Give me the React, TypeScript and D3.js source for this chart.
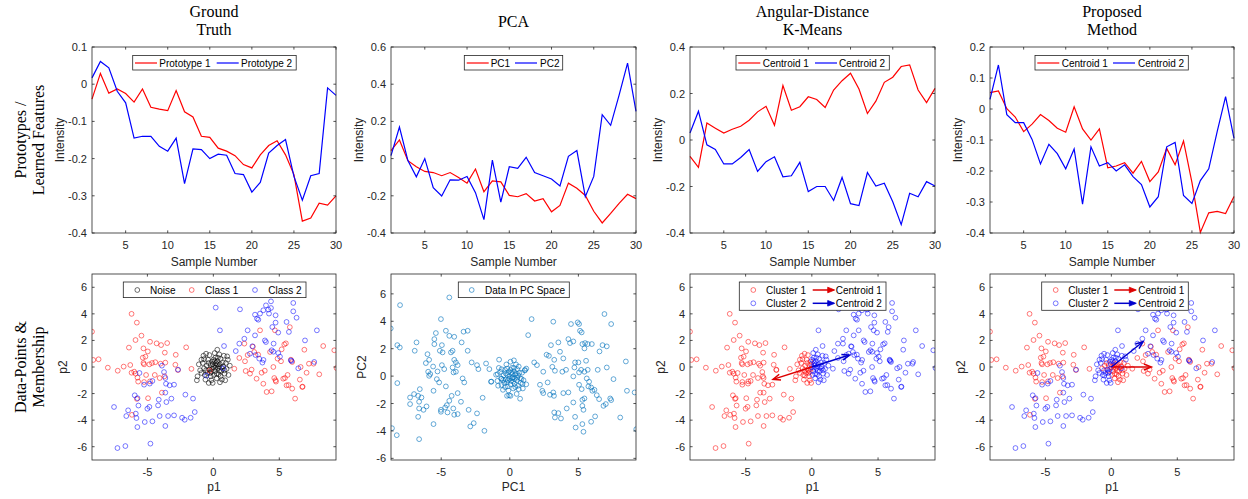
import React from 'react';
import * as d3 from 'd3';

// ---------------- DATA ----------------
const sampleNumbers = [1, 2, 3, 4, 5, 6, 7, 8, 9, 10, 11, 12, 13, 14, 15, 16, 17, 18, 19, 20, 21, 22, 23, 24, 25, 26, 27, 28, 29, 30];

const gtPrototype1 = [-0.04, 0.029, -0.024, -0.013, -0.025, -0.048, -0.013, -0.062, -0.067, -0.071, -0.017, -0.074, -0.088, -0.14, -0.143, -0.172, -0.18, -0.192, -0.216, -0.225, -0.19, -0.165, -0.152, -0.19, -0.243, -0.368, -0.36, -0.32, -0.325, -0.3];
const gtPrototype2 = [0.017, 0.061, 0.044, -0.019, -0.05, -0.145, -0.14, -0.14, -0.167, -0.18, -0.145, -0.267, -0.174, -0.176, -0.2, -0.188, -0.191, -0.24, -0.243, -0.29, -0.264, -0.185, -0.165, -0.149, -0.248, -0.312, -0.246, -0.24, -0.01, -0.03];

const pcaPC1 = [0.043, 0.1, -0.011, -0.044, -0.069, -0.075, -0.092, -0.075, -0.101, -0.132, -0.056, -0.178, -0.12, -0.125, -0.198, -0.205, -0.188, -0.228, -0.215, -0.286, -0.252, -0.132, -0.16, -0.198, -0.283, -0.346, -0.295, -0.241, -0.192, -0.215];
const pcaPC2 = [0.016, 0.17, -0.011, -0.098, 0.0, -0.156, -0.201, -0.114, -0.116, -0.096, -0.183, -0.328, -0.008, -0.234, -0.044, -0.053, 0.007, -0.075, -0.092, -0.11, -0.147, 0.012, 0.043, -0.205, -0.096, 0.236, 0.179, 0.341, 0.513, 0.254];

const kmCentroid1 = [-0.07, -0.118, 0.073, 0.051, 0.03, 0.046, 0.059, 0.085, 0.121, 0.145, 0.063, 0.234, 0.128, 0.143, 0.186, 0.174, 0.14, 0.215, 0.255, 0.287, 0.219, 0.114, 0.167, 0.248, 0.27, 0.316, 0.323, 0.215, 0.161, 0.222];
const kmCentroid2 = [0.03, 0.124, -0.021, -0.041, -0.103, -0.103, -0.075, -0.041, -0.135, -0.093, -0.072, -0.158, -0.154, -0.096, -0.222, -0.2, -0.2, -0.26, -0.161, -0.274, -0.282, -0.14, -0.198, -0.186, -0.266, -0.364, -0.229, -0.244, -0.179, -0.198];

const pmCentroid1 = [0.053, 0.058, 0.001, -0.026, -0.073, -0.049, -0.018, -0.037, -0.062, -0.075, 0.007, -0.064, -0.1, -0.064, -0.19, -0.184, -0.173, -0.207, -0.169, -0.234, -0.203, -0.127, -0.18, -0.103, -0.237, -0.398, -0.335, -0.33, -0.337, -0.282];
const pmCentroid2 = [0.031, 0.142, -0.018, -0.044, -0.044, -0.098, -0.177, -0.114, -0.144, -0.193, -0.129, -0.307, -0.122, -0.184, -0.173, -0.2, -0.18, -0.218, -0.244, -0.316, -0.283, -0.122, -0.108, -0.279, -0.305, -0.231, -0.193, -0.073, 0.04, -0.095];

const xTicksSample = [5, 10, 15, 20, 25, 30];
const yTicksGT = [0.1, 0, -0.1, -0.2, -0.3, -0.4];
const yTicksPCA = [0.6, 0.4, 0.2, 0, -0.2, -0.4];
const yTicksKM = [0.4, 0.2, 0, -0.2, -0.4];
const yTicksPM = [0.2, 0.1, 0, -0.1, -0.2, -0.3, -0.4];
const xTicksP = [-5, 0, 5];
const yTicksP = [6, 4, 2, 0, -2, -4, -6];

type P = [number, number];

const class1Left: P[] = [[-9.2, 2.66], [-9.1, 0.53], [-8.7, 0.58], [-8.0, -0.05], [-7.25, -0.28], [-6.8, 0.03], [-6.3, 0.15], [-6.2, -0.43], [-6.0, -0.35], [-5.9, -0.5], [-5.75, -0.8], [-5.7, -1.1], [-6.4, 1.46], [-6.2, 4.0], [-5.8, 3.34], [-5.9, 2.03], [-5.45, 2.36], [-5.3, 1.4], [-4.97, 1.17], [-5.35, 0.7], [-5.15, 0.78], [-5.3, 0.3], [-5.25, 0.2], [-4.85, 0.2], [-4.65, 0.3], [-4.4, 0.36], [-4.0, 0.25], [-3.64, 0.33], [-4.8, 1.9], [-4.3, 1.78], [-3.96, 1.65], [-3.5, 1.8], [-3.68, 1.08], [-2.85, 0.92], [-2.88, 0.17], [-2.68, -0.23], [-2.06, 1.48], [-5.1, -0.6], [-4.8, -1.08], [-4.44, -0.6], [-5.25, -1.13], [-4.07, -0.83], [-3.7, -0.7], [-3.9, -1.93], [-4.95, -2.35], [-5.8, -2.4], [-6.17, -3.6], [-1.66, -0.14], [-0.27, -0.27]];
const class1Right: P[] = [[1.97, 0.68], [1.59, -0.13], [2.35, 1.76], [2.4, 0.43], [2.45, -0.3], [2.9, -0.2], [3.1, 1.13], [3.28, -0.88], [3.4, 0.93], [3.54, 2.76], [3.66, -0.43], [3.79, -1.26], [4.04, -1.88], [4.3, 1.13], [4.42, -1.83], [4.55, 0.0], [4.62, -0.83], [4.67, 2.76], [4.72, -1.0], [4.87, 0.63], [5.13, 0.43], [5.18, 1.33], [5.3, -0.88], [5.38, 1.7], [5.43, -0.83], [5.55, -1.38], [5.8, 3.0], [5.88, 0.55], [5.98, 0.38], [5.98, -1.63], [6.2, -2.38], [6.56, -0.95], [6.62, 0.0], [6.74, -1.5], [6.9, 1.3], [7.07, -0.43], [7.25, 0.25], [8.03, -0.55], [8.33, 1.58], [9.17, 1.26], [9.34, -0.08], [2.6, 0.9], [2.78, -0.5], [3.9, -0.28], [4.75, -1.1], [5.63, -0.6], [5.7, -1.36], [6.77, -1.48], [7.6, 0.25], [3.0, 1.53], [5.5, 1.78]];
const class2Left: P[] = [[-5.6, -0.45], [-5.25, -1.33], [-4.82, -1.25], [-4.62, -1.05], [-3.9, 0.1], [-3.74, -0.38], [-3.64, -0.83], [-3.31, -1.38], [-2.98, -1.33], [-2.68, -0.2], [-3.64, -1.93], [-3.18, -2.38], [-3.56, -2.64], [-2.12, -2.08], [-1.54, -2.38], [-4.14, -2.46], [-4.19, -2.89], [-5.0, -3.14], [-5.96, -2.13], [-5.75, -2.35], [-5.68, -2.9], [-4.85, -3.0], [-4.07, -3.69], [-3.43, -3.69], [-2.98, -3.64], [-2.37, -3.82], [-2.17, -3.97], [-1.72, -3.82], [-1.41, -3.39], [-5.2, -4.14], [-4.62, -4.09], [-5.76, -4.52], [-3.64, -4.44], [-6.46, -3.26], [-6.6, -3.69], [-5.88, -3.51], [-5.83, -3.84], [-7.53, -3.01], [-7.27, -6.1], [-6.67, -5.95], [-4.77, -5.77], [-3.59, -1.26], [-0.53, -0.65]];
const class2Right: P[] = [[0.18, 4.47], [0.5, 2.76], [0.81, 1.58], [2.02, 4.34], [1.7, 1.2], [1.97, 1.76], [2.35, 2.13], [2.6, 2.76], [2.78, 1.0], [2.96, 1.56], [3.16, 2.38], [3.16, 3.94], [3.31, 3.64], [3.41, 3.56], [3.54, 4.02], [3.72, 0.33], [3.79, 4.27], [3.91, 2.0], [3.99, 1.88], [3.99, 4.64], [4.17, 4.32], [4.22, 4.02], [4.37, 4.94], [4.37, 4.44], [4.42, 1.26], [4.47, 3.01], [4.57, 1.76], [4.72, 3.89], [4.72, 3.34], [4.92, 1.05], [4.92, 2.59], [5.55, 3.39], [5.73, 2.64], [5.88, 0.5], [6.06, 4.82], [6.06, 4.19], [6.31, 3.71], [6.95, 2.0], [7.65, 0.38], [7.85, 2.76], [3.48, 0.63], [3.2, 0.9], [3.8, 0.53], [4.55, 1.15], [5.05, 0.78], [5.93, 0.45], [6.44, -0.1], [0.76, -0.1]];

// noise points, grouped by how the two clustering methods label them
const noiseLeftRed: P[] = [[-0.5, 0.1], [-0.35, 0.3], [-0.7, -0.1], [-0.2, 0.15]];
const noiseLeftBlue: P[] = [[-0.3, -0.2], [-0.45, -0.45], [-0.2, -0.7], [-0.4, 0.55], [-0.8, 0.3], [-0.65, -0.6], [-0.3, 0.9], [-1.0, -0.25], [-0.9, 0.55], [-0.15, -1.0], [-0.6, -0.95], [-1.1, 0.2], [-0.55, 1.0], [-1.2, -0.7], [-0.05, -1.2], [-0.35, -1.2], [-1.25, -1.0], [-0.75, 0.85], [-0.1, -0.15], [-0.25, -0.45], [-0.55, -0.25], [-0.15, -0.35], [-0.7, 0.6], [-0.9, -0.45], [-0.05, 0.2], [-0.1, 0.4]];
const noiseRightRed: P[] = [[0.0, 0.0], [0.2, 0.1], [0.35, -0.1], [0.1, -0.3], [0.5, 0.2], [0.6, -0.3], [0.05, -0.6], [0.4, -0.55], [0.75, 0.05], [0.85, -0.5], [0.25, -0.85], [0.95, 0.3], [1.0, -0.15], [0.65, -0.95], [1.15, -0.6], [0.5, -1.15], [1.25, 0.1], [0.9, -1.0], [0.2, 0.3], [0.4, 0.05], [0.6, -0.05], [0.25, -0.5], [0.7, 0.35], [0.15, -0.05], [0.3, 0.2], [0.45, -0.3], [0.55, -0.7], [0.85, -0.25]];
const noiseRightBlue: P[] = [[0.3, 0.45], [0.15, 0.7], [0.55, 0.6], [0.45, 0.95], [0.1, 1.05], [1.1, 0.55], [0.3, 1.3], [0.8, 0.85], [0.0, 0.55], [0.1, 0.45], [1.05, 0.8], [0.35, 0.7]];

const pcaLeft: P[] = [[-8.68, 3.48], [-8.0, 5.18], [-8.2, 2.26], [-8.02, 2.09], [-8.2, -0.51], [-8.59, -3.8], [-8.24, -4.31], [-6.61, -4.6], [-7.27, -1.56], [-7.27, -2.04], [-6.98, -1.31], [-6.68, -1.44], [-6.56, -0.95], [-6.61, -1.87], [-6.44, -1.56], [-6.61, -2.36], [-6.29, -2.46], [-6.07, -2.21], [-6.68, -2.97], [-5.56, -3.5], [-6.93, 1.85], [-6.8, 2.46], [-6.0, 1.6], [-6.12, 0.95], [-5.88, 1.19], [-5.95, 0.32], [-5.88, 0.02], [-5.8, 0.15], [-5.59, 0.7], [-5.5, 2.33], [-5.39, 3.14], [-5.5, 2.7], [-5.27, 0.34], [-5.32, -0.22], [-5.15, -0.46], [-5.56, -1.07], [-5.02, 4.16], [-4.95, 2.26], [-5.1, 1.85], [-4.9, 1.73], [-4.66, 3.31], [-4.41, 2.94], [-4.05, 2.87], [-4.41, 5.74], [-4.95, 0.8], [-4.78, 0.51], [-4.66, -0.75], [-5.02, -2.46], [-5.02, -2.6], [-4.71, -2.29], [-4.59, -2.12], [-4.41, -1.8], [-4.54, -2.65], [-4.24, -1.44], [-4.12, -2.36], [-4.05, -2.82], [-3.8, -2.77], [-3.8, -1.24], [-3.56, -1.87], [-4.29, 1.73], [-4.17, 1.85], [-4.05, 1.19], [-3.93, 1.0], [-4.17, 0.63], [-4.1, 0.27], [-3.93, 0.32], [-3.8, 0.8], [-3.51, 2.46], [-3.37, 3.24], [-3.07, 3.31], [-3.07, 1.85], [-3.44, -0.17], [-3.32, -0.46], [-3.0, -2.46], [-2.88, -3.67], [-2.63, -3.43], [-2.39, -2.72], [-2.78, 1.0], [-2.39, 0.8], [-2.29, 0.51], [-1.98, -1.58], [-1.85, -3.99], [-1.73, 0.92], [-1.49, 0.51], [-1.37, -0.41]];
const pcaCenter: P[] = [[0, 0], [0.2, -0.1], [-0.2, 0.1], [0.4, 0.1], [0.1, -0.35], [-0.3, -0.25], [0.5, -0.3], [-0.1, 0.3], [0.3, 0.35], [0.6, 0.05], [-0.45, 0.05], [-0.4, -0.5], [0.05, -0.6], [0.35, -0.55], [0.75, -0.15], [-0.6, -0.2], [-0.15, -0.75], [0.15, 0.6], [-0.35, 0.45], [0.55, 0.5], [0.8, -0.5], [-0.7, 0.3], [-0.6, -0.65], [0.25, -0.9], [-0.25, 0.85], [0.45, 0.85], [0.9, 0.25], [1.0, -0.3], [-0.9, -0.35], [-0.8, 0.6], [0.05, 1.05], [-0.1, -1.05], [0.65, -0.95], [-0.5, -1.0], [1.1, 0.45], [-1.0, 0.1], [0.3, 1.15], [1.2, -0.6], [-0.05, -1.4], [0.5, -1.3], [0.75, -1.65], [-1.34, -0.4], [-0.78, 1.2], [1.1, 0.41], [0.93, -0.56], [0.2, 0.15], [-0.05, -0.2], [0.35, -0.2], [0.1, 0.25], [-0.2, -0.45], [0.55, -0.1], [0.25, -0.4], [-0.5, -0.3], [0.7, 0.25], [-0.3, 0.2], [0.15, -0.15], [0.45, 0.2], [-0.15, -0.3], [0.05, 0.45], [0.6, -0.7], [-0.6, 0.5], [0.85, -0.2], [1.2, 0.55], [-0.85, -0.7], [0.3, 0.6], [0.4, -0.8], [-0.35, -0.8], [0.65, 0.7], [0.95, -0.9], [-0.2, 0.55], [-0.63, -0.17], [-0.88, 0.15], [0.05, -1.44], [-0.2, -1.44]];
const pcaRight: P[] = [[1.59, 4.16], [1.34, 2.99], [3.17, 3.97], [1.78, 1.0], [1.98, 0.8], [2.44, 0.32], [2.2, -0.63], [2.37, -1.07], [2.44, -1.24], [2.76, -0.46], [2.68, 1.56], [2.85, 1.48], [3.0, 2.26], [3.24, 1.19], [3.1, 0.68], [3.29, 0.39], [2.93, -1.36], [3.17, -1.19], [3.22, -1.44], [3.24, -2.65], [3.29, -3.02], [3.54, 2.46], [3.66, 1.78], [3.54, -2.7], [3.73, -3.09], [3.9, 1.29], [3.83, 0.32], [3.9, -1.24], [4.1, 0.46], [4.15, -2.36], [4.27, -1.19], [4.27, 2.7], [4.46, 3.8], [4.39, 2.41], [4.63, 2.53], [4.71, 0.63], [4.63, -0.02], [4.76, 1.0], [4.63, -1.92], [4.76, -2.97], [4.8, -3.75], [4.95, 3.92], [5.05, 3.8], [5.12, 3.31], [5.24, 3.19], [5.0, 1.0], [5.05, 0.27], [5.2, 0.46], [5.05, -0.63], [5.24, -0.95], [5.29, -1.73], [5.44, -1.63], [5.29, -2.17], [5.37, -2.46], [5.29, -3.5], [5.37, -4.06], [5.29, 2.34], [5.49, 2.41], [5.68, 2.34], [5.98, 2.34], [5.44, 2.02], [5.44, 0.32], [5.68, 0.46], [5.61, -0.17], [5.78, -0.41], [5.73, -0.75], [5.93, -0.83], [6.02, -1.07], [6.17, -1.0], [6.22, -2.94], [5.93, -3.33], [6.34, -1.39], [6.41, 0.46], [6.51, -1.68], [6.54, 1.8], [6.76, 2.26], [6.9, 4.53], [7.07, 2.17], [7.07, 0.63], [6.83, -2.17], [7.0, -2.04], [7.32, -1.63], [7.39, -1.75], [7.39, 3.8], [7.56, -0.22], [8.05, -3.02], [8.46, 1.07], [8.54, -1.07], [9.1, -1.19], [9.22, -3.87], [5.56, 1.12]];

const kmArrowTips: P[] = [[-2.93, -0.93], [2.83, 0.9]];
const pmArrowTips: P[] = [[3.03, 0.0], [2.4, 1.9]];

// ---------------- LAYOUT ----------------
const W = 1248, H = 499;
const COLS = [{ x0: 92, x1: 336 }, { x0: 391, x1: 636 }, { x0: 690, x1: 935 }, { x0: 990, x1: 1234 }];
const TOP = { y0: 47, y1: 233 };
const BOT = { y0: 274, y1: 460 };
const AX = '#262626';
const SANS = '"Liberation Sans", Arial, Helvetica, sans-serif';
const SERIF = '"Liberation Serif", "Times New Roman", serif';
const RED = '#ff0000', BLUE = '#0000ff', PCA_BLUE = '#0072bd';

const fmt = (v: number) => String(v);

function Frame({ x0, x1, y0, y1, xs, ys, xTicks, yTicks }: any) {
  const tl = 2.6;
  return (
    <g fontFamily={SANS} fill={AX}>
      {xTicks.map((t: number) => {
        const x = xs(t);
        return (
          <g key={'x' + t}>
            <line x1={x} x2={x} y1={y1} y2={y1 - tl} stroke={AX} strokeWidth={0.8} />
            <line x1={x} x2={x} y1={y0} y2={y0 + tl} stroke={AX} strokeWidth={0.8} />
            <text x={x} y={y1 + 15.5} textAnchor="middle" fontSize={11}>{fmt(t)}</text>
          </g>
        );
      })}
      {yTicks.map((t: number) => {
        const y = ys(t);
        return (
          <g key={'y' + t}>
            <line x1={x0} x2={x0 + tl} y1={y} y2={y} stroke={AX} strokeWidth={0.8} />
            <line x1={x1} x2={x1 - tl} y1={y} y2={y} stroke={AX} strokeWidth={0.8} />
            <text x={x0 - 5} y={y + 4} textAnchor="end" fontSize={11}>{fmt(t)}</text>
          </g>
        );
      })}
      <rect x={x0} y={y0} width={x1 - x0} height={y1 - y0} fill="none" stroke={AX} strokeWidth={0.8} />
    </g>
  );
}

function VLabel({ x, y, text, size = 12, family = SANS }: any) {
  return (
    <text transform={`translate(${x},${y}) rotate(-90)`} textAnchor="middle" dy="0.35em" fontSize={size} fontFamily={family} fill={family === SANS ? AX : '#000'}>{text}</text>
  );
}

function LinePanel({ col, yDomain, yTicks, series, legend }: any) {
  const { x0, x1 } = COLS[col];
  const { y0, y1 } = TOP;
  const xs = d3.scaleLinear().domain([1, 30]).range([x0, x1]);
  const ys = d3.scaleLinear().domain(yDomain).range([y1, y0]);
  const line = d3.line<number>().x((_, i) => xs(sampleNumbers[i])).y((d) => ys(d));
  const ly = 63;
  return (
    <g>
      <rect x={x0} y={y0} width={x1 - x0} height={y1 - y0} fill="#fff" />
      {series.map((s: any, i: number) => (
        <path key={i} d={line(s.values) || ''} fill="none" stroke={s.color} strokeWidth={1.2} />
      ))}
      <Frame x0={x0} x1={x1} y0={y0} y1={y1} xs={xs} ys={ys} xTicks={xTicksSample} yTicks={yTicks} />
      <g fontFamily={SANS} fontSize={10} fill="#000">
        <rect x={legend.x} y={55.5} width={legend.w} height={14.5} fill="#fff" stroke={AX} strokeWidth={0.8} />
        {series.map((s: any, i: number) => {
          const it = legend.items[i];
          return (
            <g key={i}>
              <line x1={legend.x + it.sx} x2={legend.x + it.sx + 22} y1={ly} y2={ly} stroke={s.color} strokeWidth={1.2} />
              <text x={legend.x + it.tx} y={ly + 3.6}>{s.label}</text>
            </g>
          );
        })}
      </g>
      <VLabel x={x0 - 32} y={(y0 + y1) / 2} text="Intensity" />
      <text x={(x0 + x1) / 2} y={266} textAnchor="middle" fontFamily={SANS} fontSize={12} fill={AX}>Sample Number</text>
    </g>
  );
}

function arrowHead(tx: number, ty: number, fx: number, fy: number, len: number, ang: number) {
  const a = Math.atan2(ty - fy, tx - fx);
  const p1 = [tx - len * Math.cos(a - ang), ty - len * Math.sin(a - ang)];
  const p2 = [tx - len * Math.cos(a + ang), ty - len * Math.sin(a + ang)];
  return `M${p1[0]},${p1[1]}L${tx},${ty}L${p2[0]},${p2[1]}`;
}

function ScatterPanel({ id, col, xDomain, yDomain, groups, arrows, legend, xlabel, ylabel }: any) {
  const { x0, x1 } = COLS[col];
  const { y0, y1 } = BOT;
  const xs = d3.scaleLinear().domain(xDomain).range([x0, x1]);
  const ys = d3.scaleLinear().domain(yDomain).range([y1, y0]);
  return (
    <g>
      <defs>
        <clipPath id={id}>
          <rect x={x0} y={y0} width={x1 - x0} height={y1 - y0} />
        </clipPath>
      </defs>
      <rect x={x0} y={y0} width={x1 - x0} height={y1 - y0} fill="#fff" />
      <g clipPath={`url(#${id})`}>
        {groups.map((g: any, gi: number) => (
          <g key={gi} fill="none" stroke={g.color} strokeWidth={0.75} strokeOpacity={g.opacity}>
            {g.pts.map((p: P, i: number) => (
              <circle key={i} cx={xs(p[0])} cy={ys(p[1])} r={2.4} />
            ))}
          </g>
        ))}
        {(arrows || []).map((a: any, i: number) => {
          const fx = xs(0), fy = ys(0), tx = xs(a.tip[0]), ty = ys(a.tip[1]);
          return (
            <g key={'a' + i} fill="none" stroke={a.color} strokeWidth={1.5}>
              <line x1={fx} y1={fy} x2={tx} y2={ty} />
              <path d={arrowHead(tx, ty, fx, fy, 8, 0.38)} />
            </g>
          );
        })}
      </g>
      <Frame x0={x0} x1={x1} y0={y0} y1={y1} xs={xs} ys={ys} xTicks={xTicksP} yTicks={yTicksP.filter((t) => t >= yDomain[0] && t <= yDomain[1])} />
      <g fontFamily={SANS} fontSize={10} fill="#000">
        <rect x={legend.x} y={282} width={legend.w} height={legend.h} fill="#fff" stroke={AX} strokeWidth={0.8} />
        {legend.items.map((it: any, i: number) => {
          const cy = 290 + (it.row || 0) * 13.3;
          if (it.kind === 'circle') {
            return (
              <g key={i}>
                <circle cx={legend.x + it.sx} cy={cy} r={2.4} fill="none" stroke={it.color} strokeWidth={0.75} strokeOpacity={it.opacity} />
                <text x={legend.x + it.tx} y={cy + 3.6}>{it.label}</text>
              </g>
            );
          }
          const ax0 = legend.x + it.sx, ax1 = legend.x + it.sx + 22;
          return (
            <g key={i}>
              <line x1={ax0} x2={ax1 - 1} y1={cy} y2={cy} stroke={it.color} strokeWidth={1.5} />
              <path d={`M${ax1 - 7},${cy - 2.8}L${ax1},${cy}L${ax1 - 7},${cy + 2.8}Z`} fill={it.color} stroke={it.color} strokeWidth={0.8} />
              <text x={legend.x + it.tx} y={cy + 3.6}>{it.label}</text>
            </g>
          );
        })}
      </g>
      <VLabel x={x0 - 29} y={(y0 + y1) / 2} text={ylabel} />
      <text x={(x0 + x1) / 2} y={491} textAnchor="middle" fontFamily={SANS} fontSize={12} fill={AX}>{xlabel}</text>
    </g>
  );
}

export default function App() {
  const allNoise = [...noiseLeftRed, ...noiseLeftBlue, ...noiseRightRed, ...noiseRightBlue];
  const gtClass1 = [...class1Left, ...class1Right];
  const gtClass2 = [...class2Left, ...class2Right];
  const kmCluster1 = [...class1Left, ...class2Left, ...noiseLeftRed, ...noiseLeftBlue];
  const kmCluster2 = [...class1Right, ...class2Right, ...noiseRightRed, ...noiseRightBlue];
  const pmCluster1 = [...class1Left, ...class1Right, ...noiseLeftRed, ...noiseRightRed];
  const pmCluster2 = [...class2Left, ...class2Right, ...noiseLeftBlue, ...noiseRightBlue];
  const pcaPoints = [...pcaLeft, ...pcaCenter, ...pcaRight];
  const pDomX = [-9.2, 9.3];
  const pDomY = [-7, 7];
  const op = 0.7;

  const titles = [
    { col: 0, lines: ['Ground', 'Truth'] },
    { col: 1, lines: ['PCA'] },
    { col: 2, lines: ['Angular-Distance', 'K-Means'] },
    { col: 3, lines: ['Proposed', 'Method'] },
  ];

  return (
    <svg width={W} height={H} style={{ position: 'absolute', left: 0, top: 0, background: '#fff' }} fontFamily={SANS}>
      <rect x={0} y={0} width={W} height={H} fill="#fff" />
      {titles.map((t) => {
        const cx = (COLS[t.col].x0 + COLS[t.col].x1) / 2;
        return t.lines.length === 1 ? (
          <text key={t.col} x={cx} y={27} textAnchor="middle" fontFamily={SERIF} fontSize={16} fill="#000">{t.lines[0]}</text>
        ) : (
          <g key={t.col}>
            <text x={cx} y={17} textAnchor="middle" fontFamily={SERIF} fontSize={16} fill="#000">{t.lines[0]}</text>
            <text x={cx} y={35} textAnchor="middle" fontFamily={SERIF} fontSize={16} fill="#000">{t.lines[1]}</text>
          </g>
        );
      })}
      <VLabel x={20} y={140} text="Prototypes /" size={16} family={SERIF} />
      <VLabel x={38} y={140} text="Learned Features" size={16} family={SERIF} />
      <VLabel x={20} y={367} text="Data-Points &" size={16} family={SERIF} />
      <VLabel x={38} y={367} text="Membership" size={16} family={SERIF} />

      <LinePanel col={0} yDomain={[-0.4, 0.1]} yTicks={yTicksGT}
        series={[{ values: gtPrototype1, color: RED, label: 'Prototype 1' }, { values: gtPrototype2, color: BLUE, label: 'Prototype 2' }]}
        legend={{ x: 132.7, w: 163.5, items: [{ sx: 2.3, tx: 26.6 }, { sx: 84, tx: 108.3 }] }} />
      <LinePanel col={1} yDomain={[-0.4, 0.6]} yTicks={yTicksPCA}
        series={[{ values: pcaPC1, color: RED, label: 'PC1' }, { values: pcaPC2, color: BLUE, label: 'PC2' }]}
        legend={{ x: 464.3, w: 98.4, items: [{ sx: 2.4, tx: 26.4 }, { sx: 50.7, tx: 75.7 }] }} />
      <LinePanel col={2} yDomain={[-0.4, 0.4]} yTicks={yTicksKM}
        series={[{ values: kmCentroid1, color: RED, label: 'Centroid 1' }, { values: kmCentroid2, color: BLUE, label: 'Centroid 2' }]}
        legend={{ x: 736, w: 153.3, items: [{ sx: 2.3, tx: 26.7 }, { sx: 79, tx: 103 }] }} />
      <LinePanel col={3} yDomain={[-0.4, 0.2]} yTicks={yTicksPM}
        series={[{ values: pmCentroid1, color: RED, label: 'Centroid 1' }, { values: pmCentroid2, color: BLUE, label: 'Centroid 2' }]}
        legend={{ x: 1035, w: 153.3, items: [{ sx: 2.3, tx: 26.7 }, { sx: 78, tx: 103 }] }} />

      <ScatterPanel id="c0" col={0} xDomain={pDomX} yDomain={pDomY} xlabel="p1" ylabel="p2"
        groups={[{ pts: allNoise, color: '#000', opacity: 0.75 }, { pts: gtClass1, color: RED, opacity: op }, { pts: gtClass2, color: BLUE, opacity: op }]}
        legend={{ x: 123.3, w: 182.7, h: 15.6, items: [
          { kind: 'circle', color: '#000', opacity: 0.75, label: 'Noise', sx: 14, tx: 26.7 },
          { kind: 'circle', color: RED, opacity: op, label: 'Class 1', sx: 68.4, tx: 81.7 },
          { kind: 'circle', color: BLUE, opacity: op, label: 'Class 2', sx: 131.7, tx: 145 }] }} />
      <ScatterPanel id="c1" col={1} xDomain={[-8.66, 9.2]} yDomain={[-6.12, 7.45]} xlabel="PC1" ylabel="PC2"
        groups={[{ pts: pcaPoints, color: PCA_BLUE, opacity: 0.8 }]}
        legend={{ x: 458.3, w: 111, h: 15.6, items: [
          { kind: 'circle', color: PCA_BLUE, opacity: 0.8, label: 'Data In PC Space', sx: 13.4, tx: 26.7 }] }} />
      <ScatterPanel id="c2" col={2} xDomain={pDomX} yDomain={pDomY} xlabel="p1" ylabel="p2"
        groups={[{ pts: kmCluster1, color: RED, opacity: op }, { pts: kmCluster2, color: BLUE, opacity: op }]}
        arrows={[{ tip: kmArrowTips[0], color: '#dd0000' }, { tip: kmArrowTips[1], color: '#0000cc' }]}
        legend={{ x: 739.3, w: 146.7, h: 28.3, items: [
          { kind: 'circle', color: RED, opacity: op, label: 'Cluster 1', sx: 14, tx: 26.7, row: 0 },
          { kind: 'arrow', color: '#dd0000', label: 'Centroid 1', sx: 73.4, tx: 96.4, row: 0 },
          { kind: 'circle', color: BLUE, opacity: op, label: 'Cluster 2', sx: 14, tx: 26.7, row: 1 },
          { kind: 'arrow', color: '#0000cc', label: 'Centroid 2', sx: 73.4, tx: 96.4, row: 1 }] }} />
      <ScatterPanel id="c3" col={3} xDomain={pDomX} yDomain={pDomY} xlabel="p1" ylabel="p2"
        groups={[{ pts: pmCluster1, color: RED, opacity: op }, { pts: pmCluster2, color: BLUE, opacity: op }]}
        arrows={[{ tip: pmArrowTips[0], color: '#dd0000' }, { tip: pmArrowTips[1], color: '#0000cc' }]}
        legend={{ x: 1041.7, w: 146.6, h: 28.3, items: [
          { kind: 'circle', color: RED, opacity: op, label: 'Cluster 1', sx: 14, tx: 26.6, row: 0 },
          { kind: 'arrow', color: '#dd0000', label: 'Centroid 1', sx: 72.6, tx: 96.6, row: 0 },
          { kind: 'circle', color: BLUE, opacity: op, label: 'Cluster 2', sx: 14, tx: 26.6, row: 1 },
          { kind: 'arrow', color: '#0000cc', label: 'Centroid 2', sx: 72.6, tx: 96.6, row: 1 }] }} />
    </svg>
  );
}
